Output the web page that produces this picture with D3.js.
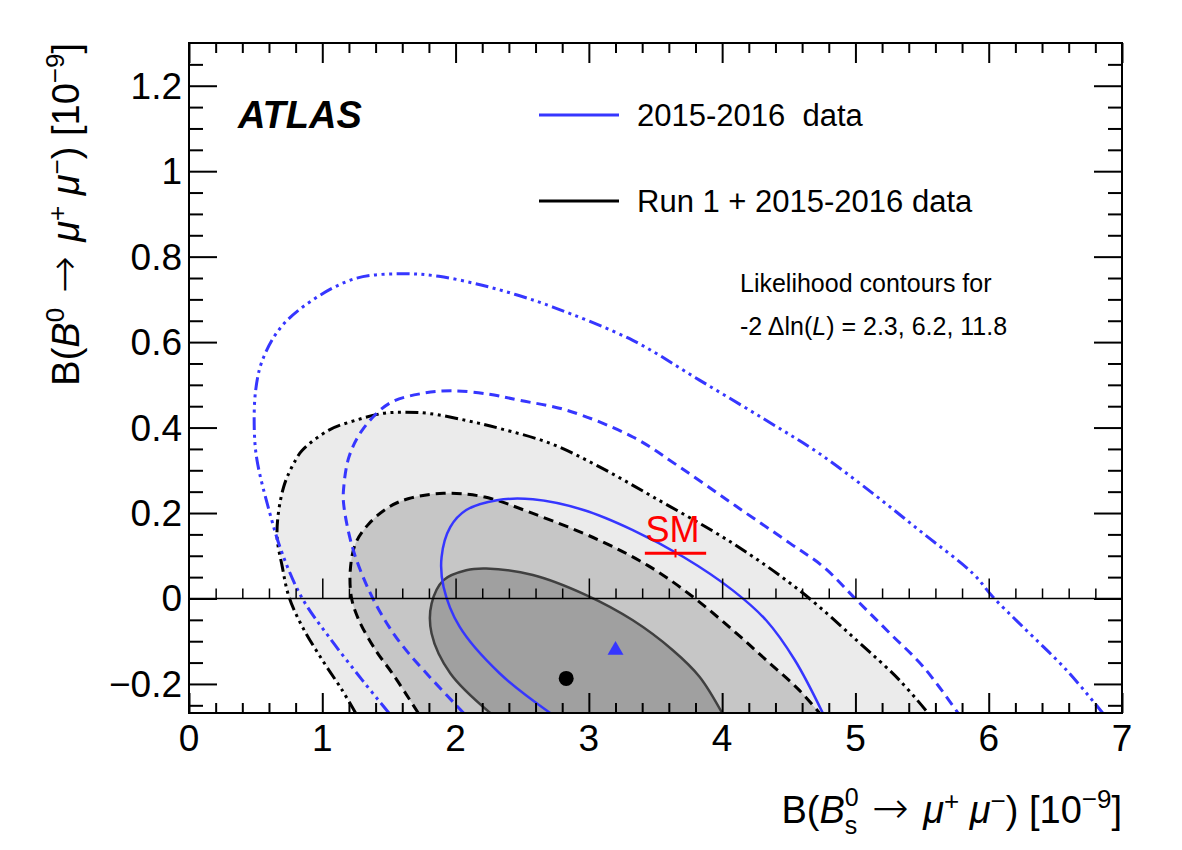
<!DOCTYPE html>
<html>
<head>
<meta charset="utf-8">
<script src="https://cdn.jsdelivr.net/npm/d3@7"></script>
<style>
body { margin: 0; background: #fff; }
text { font-family: "Liberation Sans", Arial, Helvetica, sans-serif; fill: #000; }
</style>
</head>
<body>
<div id="chart"></div>
<script>
var svgWidth = 1182;
var svgHeight = 850;

var margin = {
    top: 43,
    right: 60,
    bottom: 137,
    left: 189
};

var width = svgWidth - margin.left - margin.right;
var height = svgHeight - margin.top - margin.bottom;

// axis ticks
var xMajor = [0, 1, 2, 3, 4, 5, 6, 7];
var xMinor = d3.range(0, 7.01, 0.2).filter(v => Math.abs(v - Math.round(v)) > 1e-6);
var yMajor = [-0.2, 0, 0.2, 0.4, 0.6, 0.8, 1, 1.2];
var yMinor = [-0.25, -0.15, -0.1, -0.05, 0.05, 0.1, 0.15, 0.25, 0.3, 0.35, 0.45, 0.5, 0.55,
              0.65, 0.7, 0.75, 0.85, 0.9, 0.95, 1.05, 1.1, 1.15, 1.25];

// Run 1 + 2015-2016 contours (black, filled)
var run1Sigma1 = [[2.26, -0.268], [1.96, -0.175], [1.82, -0.082], [1.82, -0.012], [1.91, 0.043],
    [2.08, 0.066], [2.23, 0.070], [2.58, 0.055], [2.98, 0.008], [3.33, -0.051], [3.63, -0.121],
    [3.83, -0.183], [4.0, -0.268]];
var run1Sigma2 = [[1.72, -0.268], [1.65, -0.234], [1.525, -0.175], [1.40, -0.121], [1.275, -0.051],
    [1.22, 0.0], [1.21, 0.066], [1.25, 0.129], [1.35, 0.175], [1.50, 0.214], [1.65, 0.234],
    [1.91, 0.246], [2.21, 0.238], [2.58, 0.199], [3.08, 0.136], [3.46, 0.074], [3.78, 0.004],
    [4.08, -0.074], [4.33, -0.144], [4.58, -0.215], [4.73, -0.268]];
var run1Sigma3 = [[1.25, -0.268], [1.15, -0.215], [1.00, -0.144], [0.85, -0.066], [0.75, 0.004],
    [0.70, 0.074], [0.66, 0.152], [0.71, 0.261], [0.80, 0.324], [0.85, 0.347], [1.05, 0.394],
    [1.25, 0.417], [1.45, 0.433], [1.625, 0.436], [1.80, 0.433], [2.075, 0.417], [2.33, 0.398],
    [2.71, 0.363], [3.08, 0.308], [3.48, 0.238], [4.08, 0.129], [4.58, 0.019], [5.01, -0.098],
    [5.33, -0.191], [5.545, -0.268]];

// 2015-2016 contours (blue)
var d1516Sigma1 = [[2.71, -0.268], [2.33, -0.175], [2.03, -0.066], [1.91, 0.027], [1.895, 0.097],
    [1.96, 0.167], [2.08, 0.207], [2.31, 0.230], [2.58, 0.232], [2.96, 0.207], [3.33, 0.160],
    [3.71, 0.097], [4.08, 0.019], [4.33, -0.051], [4.545, -0.144], [4.755, -0.268]];
var d1516Sigma2 = [[2.06, -0.268], [1.65, -0.129], [1.50, -0.066], [1.35, 0.019], [1.225, 0.121],
    [1.16, 0.222], [1.16, 0.257], [1.20, 0.331], [1.30, 0.394], [1.50, 0.456], [1.75, 0.480],
    [1.975, 0.486], [2.25, 0.478], [2.475, 0.464], [2.83, 0.441], [3.33, 0.378], [3.68, 0.308],
    [4.095, 0.218], [4.51, 0.129], [4.76, 0.074], [5.01, -0.004], [5.26, -0.082], [5.51, -0.160],
    [5.77, -0.268]];
var d1516Sigma3 = [[1.50, -0.268], [1.30, -0.191], [1.05, -0.090], [0.85, 0.0], [0.70, 0.105],
    [0.60, 0.207], [0.51, 0.324], [0.49, 0.394], [0.50, 0.487], [0.55, 0.557], [0.69, 0.635],
    [0.925, 0.698], [1.25, 0.749], [1.60, 0.760], [1.875, 0.754], [2.20, 0.733], [2.475, 0.709],
    [2.73, 0.682], [3.33, 0.604], [3.83, 0.511], [4.33, 0.417], [4.73, 0.339], [5.13, 0.246],
    [5.505, 0.153], [5.88, 0.059], [6.03, 0.004], [6.255, -0.066], [6.585, -0.168], [6.855, -0.268]];

var bestFitRun1 = [2.83, -0.187];
var bestFit1516 = [3.2, -0.121];
var smPoint = {x: 3.65, xErr: 0.23, y: 0.106, yErr: 0.01};

var blue = "#3636ff";

var svg = d3.select("#chart")
    .append("svg")
    .attr("width", svgWidth)
    .attr("height", svgHeight);

var chartGroup = svg.append("g")
    .attr("transform", `translate(${margin.left}, ${margin.top})`);

var x = d3.scaleLinear().domain([0, 7]).range([0, width]);
var y = d3.scaleLinear().domain([-0.268, 1.3]).range([height, 0]);

svg.append("defs").append("clipPath").attr("id", "plotClip")
    .append("rect").attr("width", width).attr("height", height);

var plot = chartGroup.append("g").attr("clip-path", "url(#plotClip)");

var contourLine = d3.line()
    .x(d => x(d[0]))
    .y(d => y(d[1]))
    .curve(d3.curveCatmullRom.alpha(0.5));

// filled areas
[[run1Sigma3, "#ebebeb"], [run1Sigma2, "#c6c6c6"], [run1Sigma1, "#a0a0a0"]].forEach(function(c) {
    plot.append("path")
        .attr("d", contourLine(c[0]) + "Z")
        .attr("fill", c[1])
        .attr("stroke", "none");
});

// zero line with its own ticks
var zeroAxis = chartGroup.append("g").attr("transform", `translate(0, ${y(0)})`);
zeroAxis.append("line").attr("x1", 0).attr("x2", width).attr("stroke", "#000").attr("stroke-width", 1.5);
zeroAxis.call(d3.axisBottom(x).tickValues(xMajor.slice(1, -1)).tickSize(-20).tickFormat(""));
zeroAxis.append("g").call(d3.axisBottom(x).tickValues(xMinor).tickSize(-10).tickFormat(""));
zeroAxis.selectAll(".domain").remove();
zeroAxis.selectAll("line").attr("stroke-width", 1.5);

var dashDotDot = "13,4.5,3,4.5,3,4.5,3,4.5";
var contours = [
    {pts: run1Sigma3, color: "#000", dash: dashDotDot, w: 3},
    {pts: run1Sigma2, color: "#000", dash: "10,6", w: 3},
    {pts: run1Sigma1, color: "#404040", dash: null, w: 2.5},
    {pts: d1516Sigma3, color: blue, dash: dashDotDot, w: 3},
    {pts: d1516Sigma2, color: blue, dash: "10,6", w: 3},
    {pts: d1516Sigma1, color: blue, dash: null, w: 2.5}
];
contours.forEach(function(c) {
    plot.append("path")
        .attr("d", contourLine(c.pts))
        .attr("fill", "none")
        .attr("stroke", c.color)
        .attr("stroke-width", c.w)
        .attr("stroke-dasharray", c.dash);
});

// best fit markers
plot.append("circle")
    .attr("cx", x(bestFitRun1[0]))
    .attr("cy", y(bestFitRun1[1]))
    .attr("r", 7.5)
    .attr("fill", "#000");
plot.append("path")
    .attr("d", d3.symbol().type(d3.symbolTriangle).size(110))
    .attr("transform", `translate(${x(bestFit1516[0])}, ${y(bestFit1516[1])})`)
    .attr("fill", blue);

// SM prediction
var smG = plot.append("g");
smG.append("line")
    .attr("x1", x(smPoint.x - smPoint.xErr)).attr("x2", x(smPoint.x + smPoint.xErr))
    .attr("y1", y(smPoint.y)).attr("y2", y(smPoint.y))
    .attr("stroke", "#ff0000").attr("stroke-width", 3);
smG.append("line")
    .attr("x1", x(smPoint.x)).attr("x2", x(smPoint.x))
    .attr("y1", y(smPoint.y + smPoint.yErr)).attr("y2", y(smPoint.y - smPoint.yErr))
    .attr("stroke", "#ff0000").attr("stroke-width", 2);
smG.append("text")
    .attr("x", x(smPoint.x) - 3)
    .attr("y", y(smPoint.y) - 11)
    .attr("text-anchor", "middle")
    .style("font-size", "36px")
    .style("fill", "#ff0000")
    .text("SM");

// axes (ticks pointing inward, ROOT style)
function tickAxis(axisFn, scale, vals, size, tr) {
    var g = chartGroup.append("g").attr("transform", tr);
    g.call(axisFn(scale).tickValues(vals).tickSize(size).tickFormat(""));
    g.select(".domain").remove();
    g.selectAll("line").attr("stroke", "#000").attr("stroke-width", 2);
    return g;
}
tickAxis(d3.axisBottom, x, xMajor, -20, `translate(0, ${height})`);
tickAxis(d3.axisBottom, x, xMinor, -10, `translate(0, ${height})`);
tickAxis(d3.axisTop, x, xMajor, -20, "translate(0, 0)");
tickAxis(d3.axisTop, x, xMinor, -10, "translate(0, 0)");
tickAxis(d3.axisLeft, y, yMajor, -28, "translate(0, 0)");
tickAxis(d3.axisLeft, y, yMinor, -14, "translate(0, 0)");
tickAxis(d3.axisRight, y, yMajor, -28, `translate(${width}, 0)`);
tickAxis(d3.axisRight, y, yMinor, -14, `translate(${width}, 0)`);

chartGroup.append("rect")
    .attr("width", width).attr("height", height)
    .attr("fill", "none").attr("stroke", "#000").attr("stroke-width", 2);

// tick labels
chartGroup.selectAll(".xlab").data(xMajor).enter().append("text")
    .attr("x", d => x(d))
    .attr("y", height + 38)
    .attr("text-anchor", "middle")
    .style("font-size", "37px")
    .text(d => d);
chartGroup.selectAll(".ylab").data(yMajor).enter().append("text")
    .attr("x", -7)
    .attr("y", d => y(d) + 13)
    .attr("text-anchor", "end")
    .style("font-size", "37px")
    .text(d => d < 0 ? "\u2212" + Math.abs(d) : d);

// axis titles
function arrowSpan(t, dy) {
    t.append("tspan").attr("dy", dy).text(" ");
    t.append("tspan").attr("dx", 4)
        .style("font-family", "'DejaVu Sans', sans-serif")
        .style("font-size", "44px")
        .style("font-weight", "200")
        .text("\u2192");
    t.append("tspan").attr("dx", 4).text(" ");
}

var xTitle = svg.append("text")
    .attr("x", 1122).attr("y", 823)
    .attr("text-anchor", "end")
    .style("font-size", "38px");
xTitle.append("tspan").text("B(");
xTitle.append("tspan").style("font-style", "italic").text("B");
xTitle.append("tspan").attr("dy", -17).style("font-size", "25px").text("0");
xTitle.append("tspan").attr("dx", -14).attr("dy", 28).style("font-size", "25px").text("s");
arrowSpan(xTitle, -11);
xTitle.append("tspan").style("font-style", "italic").text("\u03bc");
xTitle.append("tspan").attr("dy", -13).style("font-size", "26px").text("+");
xTitle.append("tspan").attr("dy", 13).text(" ");
xTitle.append("tspan").style("font-style", "italic").text("\u03bc");
xTitle.append("tspan").attr("dy", -13).style("font-size", "26px").text("\u2212");
xTitle.append("tspan").attr("dy", 13).text(") [10");
xTitle.append("tspan").attr("dy", -15).style("font-size", "26px").text("\u22129");
xTitle.append("tspan").attr("dy", 15).text("]");

var yTitle = svg.append("text")
    .attr("transform", "translate(79, 43) rotate(-90)")
    .attr("text-anchor", "end")
    .style("font-size", "38px");
yTitle.append("tspan").text("B(");
yTitle.append("tspan").style("font-style", "italic").text("B");
yTitle.append("tspan").attr("dy", -15).style("font-size", "26px").text("0");
arrowSpan(yTitle, 15);
yTitle.append("tspan").style("font-style", "italic").text("\u03bc");
yTitle.append("tspan").attr("dy", -13).style("font-size", "26px").text("+");
yTitle.append("tspan").attr("dy", 13).text(" ");
yTitle.append("tspan").style("font-style", "italic").text("\u03bc");
yTitle.append("tspan").attr("dy", -13).style("font-size", "26px").text("\u2212");
yTitle.append("tspan").attr("dy", 13).text(") [10");
yTitle.append("tspan").attr("dy", -15).style("font-size", "26px").text("\u22129");
yTitle.append("tspan").attr("dy", 15).text("]");

// ATLAS label
svg.append("text")
    .attr("x", 238).attr("y", 128)
    .style("font-size", "38px")
    .style("font-weight", "bold")
    .style("font-style", "italic")
    .text("ATLAS");

// legend
var legendItems = [
    {label: "2015-2016  data", color: blue, y: 115},
    {label: "Run 1 + 2015-2016 data", color: "#000", y: 201}
];
legendItems.forEach(function(d) {
    svg.append("line")
        .attr("x1", 539).attr("x2", 619)
        .attr("y1", d.y).attr("y2", d.y)
        .attr("stroke", d.color).attr("stroke-width", 3);
    svg.append("text")
        .attr("x", 637).attr("y", d.y + 11)
        .style("font-size", "31px")
        .style("white-space", "pre")
        .text(d.label);
});

svg.append("text")
    .attr("x", 740).attr("y", 292)
    .style("font-size", "25px")
    .text("Likelihood contours for");
var lk = svg.append("text")
    .attr("x", 740).attr("y", 335)
    .style("font-size", "25px")
    .style("white-space", "pre");
lk.append("tspan").text("-2 \u0394ln(");
lk.append("tspan").style("font-style", "italic").text("L");
lk.append("tspan").text(") = 2.3, 6.2, 11.8");
</script>
</body>
</html>
